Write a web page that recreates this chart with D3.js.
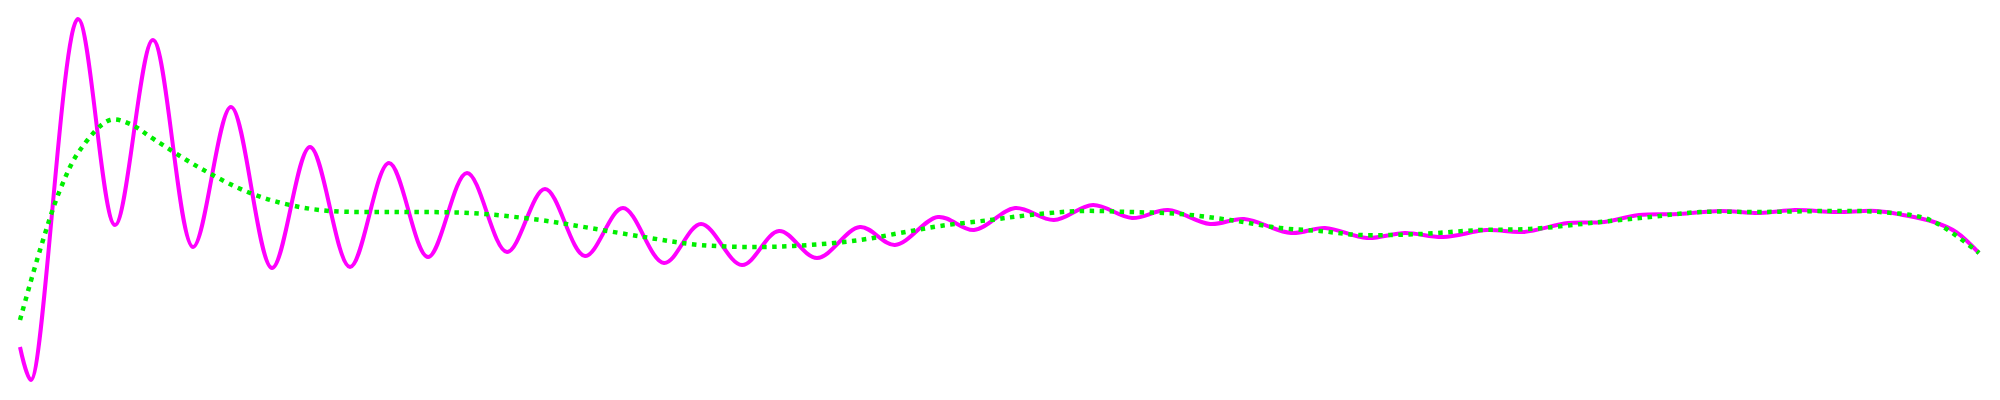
<!DOCTYPE html>
<html>
<head>
<meta charset="utf-8">
<script src="https://cdn.jsdelivr.net/npm/d3@7"></script>
<style>
  body { margin: 0; background: #fff; }
</style>
</head>
<body>
<div id="chart"></div>
<script>
// oscillating series (magenta), x and y values
var waveX = [20, 31, 78, 115, 153, 193, 231, 272, 310, 350, 389, 428, 467, 507, 545, 585, 623, 664,
    701, 742, 779, 817, 860, 895, 938, 974, 1015, 1054, 1093, 1132, 1168, 1210, 1244, 1291, 1325,
    1367, 1405, 1443, 1487, 1523, 1568, 1604, 1639, 1679, 1720, 1760, 1795, 1836, 1876, 1903, 1934, 1956, 1979];
var waveY = [53, 20, 381, 175, 360, 153, 293, 132, 253, 133, 237, 143, 227, 148, 211, 144, 192, 137,
    176, 135, 169, 142, 173, 155, 183, 170, 192, 180, 195, 182, 190, 176, 181, 167, 172,
    162, 167, 163, 170, 168, 177, 178, 185, 186, 189, 187, 190, 188, 189, 185, 178, 168, 147];

// smooth series (green, dotted)
var smoothX = [20, 40, 60, 80, 110, 130, 155, 200, 250, 290, 330, 400, 470, 540, 590, 650, 700, 760,
    810, 860, 900, 940, 990, 1030, 1080, 1130, 1180, 1230, 1280, 1320, 1360, 1420, 1480, 1530, 1600,
    1650, 1700, 1760, 1830, 1880, 1930, 1979];
var smoothY = [80, 150, 210, 250, 280, 276, 260, 232, 207, 195, 189, 188, 187, 180, 172, 162, 155, 153,
    155, 160, 167, 174, 180, 185, 189, 188, 186, 180, 172, 169, 165, 166, 170, 171, 178,
    183, 188, 188, 189, 188, 180, 147];

var width = 2000, height = 400;

var svg = d3.select("#chart").append("svg")
    .attr("width", width)
    .attr("height", height);

var x = d3.scaleLinear().domain([0, 2000]).range([0, width]);
var y = d3.scaleLinear().domain([0, 400]).range([height, 0]);

var line = d3.line()
    .x(function (d) { return x(d[0]); })
    .y(function (d) { return y(d[1]); })
    .curve(d3.curveCatmullRom.alpha(0.5));

var wave = d3.zip(waveX, waveY);
var smooth = d3.zip(smoothX, smoothY);

svg.append("path")
    .datum(wave)
    .attr("d", line)
    .attr("fill", "none")
    .attr("stroke", "#ff00ff")
    .attr("stroke-width", 4);

svg.append("path")
    .datum(smooth)
    .attr("d", line)
    .attr("fill", "none")
    .attr("stroke", "#00ee00")
    .attr("stroke-width", 4.5)
    .attr("stroke-dasharray", "4.5,5.5");
</script>
</body>
</html>
